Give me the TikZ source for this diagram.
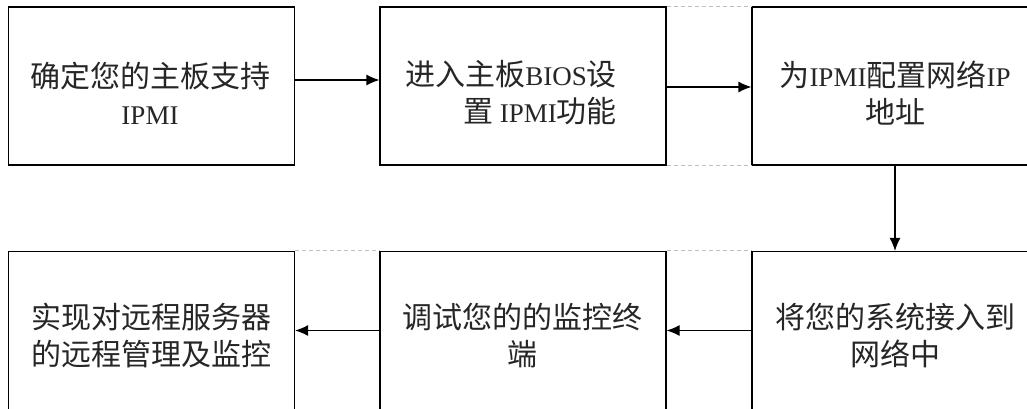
\documentclass[tikz,border=0pt]{standalone}
\usepackage{fontspec}
\setmainfont[Scale=0.9]{Liberation Serif}
\newfontfamily\cjk{Noto Sans CJK SC}
\usetikzlibrary{arrows.meta}
\tikzset{
  box/.style={draw=black, line width=1.2pt, minimum width=286pt, minimum height=158pt, inner sep=0pt},
  lbl/.style={font=\fontsize{30}{37}\selectfont, inner sep=0pt, align=center, text=black!85},
  arr/.style={line width=1.2pt, -{Latex[length=13pt,width=11pt]}},
  gap/.style={draw=black!25, line width=1pt, dash pattern=on 4pt off 3pt}
}
\begin{document}
\begin{tikzpicture}[x=1pt,y=1pt]
\useasboundingbox (0,0) rectangle (1027,-408);
\clip (0,0) rectangle (1027,-408);
\fill[white] (0,0) rectangle (1027,-408);
% top row
\node[box] (b1) at (151.5,-86) {};
\node[box] (b2) at (523,-86) {};
\node[box] (b3) at (895,-86) {};
% bottom row
\node[box] (b4) at (151.5,-330.5) {};
\node[box] (b5) at (523,-330.5) {};
\node[box] (b6) at (895,-330.5) {};
% dashed gaps
\draw[gap] (b2.north east) -- (b3.north west);
\draw[gap] (b2.south east) -- (b3.south west);
\draw[gap] (b4.north east) -- (b5.north west);
\draw[gap] (b4.south east) -- (b5.south west);
\draw[gap] (b5.north east) -- (b6.north west);
\draw[gap] (b5.south east) -- (b6.south west);
% texts
\node[lbl] (t1) at (150,-93) {{\cjk 确定您的主板支持}\\IPMI};
\node[lbl, align=right, anchor=east] (t2) at (617,-93) {{\cjk 进入主板}BIOS{\cjk 设}\\{\cjk 置} IPMI{\cjk 功能}};
\node[lbl] (t3) at (895,-93) {{\cjk 为}IPMI{\cjk 配置网络}IP\\{\cjk 地址}};
\node[lbl] (t4) at (151,-336) {{\cjk 实现对远程服务器}\\{\cjk 的远程管理及监控}};
\node[lbl] (t5) at (522,-336) {{\cjk 调试您的的监控终}\\{\cjk 端}};
\node[lbl] (t6) at (895,-336) {{\cjk 将您的系统接入到}\\{\cjk 网络中}};
% arrows
\draw[arr] ([yshift=6pt]b1.east) -- ([yshift=6pt]b2.west);
\draw[arr] ([yshift=-1pt]b2.east) -- ([yshift=-1pt]b3.west);
\draw[arr] (b3.south) -- (b6.north);
\draw[arr] (b6.west) -- (b5.east);
\draw[arr] (b5.west) -- (b4.east);
\end{tikzpicture}
\end{document}
